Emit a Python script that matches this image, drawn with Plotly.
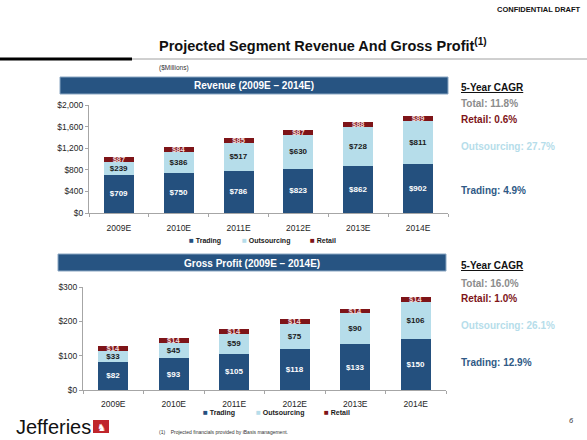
import plotly.graph_objects as go

years = ["2009E", "2010E", "2011E", "2012E", "2013E", "2014E"]
rev_trading = [709, 750, 786, 823, 862, 902]
rev_outsourcing = [239, 386, 517, 630, 728, 811]
rev_retail = [87, 84, 85, 87, 88, 89]
gp_trading = [82, 93, 105, 118, 133, 150]
gp_outsourcing = [33, 45, 59, 75, 90, 106]
gp_retail = [14, 14, 14, 14, 14, 14]
rev_ticks = [0, 400, 800, 1200, 1600, 2000]
gp_ticks = [0, 100, 200, 300]
series_names = ["Trading", "Outsourcing", "Retail"]
rev_cagr = ["Total: 11.8%", "Retail: 0.6%", "Outsourcing: 27.7%", "Trading: 4.9%"]
gp_cagr = ["Total: 16.0%", "Retail: 1.0%", "Outsourcing: 26.1%", "Trading: 12.9%"]

W, H = 587, 440
NAVY = "#24507E"
LIGHT = "#B6DDEA"
RED = "#7E1418"
SERIES_COLORS = [NAVY, LIGHT, RED]
FONT = "Liberation Sans, Arial, sans-serif"


def px(x):
    return x / W


def py(y):
    return 1 - y / H


fig = go.Figure()

label_colors = ["white", "#1a1a1a", "#f0d8d8"]
label_sizes = [8, 8, 7.5]


def add_stack(values, xa, ya, leg):
    for vals, name, col, tc, ts in zip(values, series_names, SERIES_COLORS, label_colors, label_sizes):
        fig.add_trace(go.Bar(
            x=years, y=vals, name=name, marker=dict(color=col, line=dict(width=0)),
            xaxis=xa, yaxis=ya, showlegend=False,
            text=["<b>$%d</b>" % v for v in vals], textposition="inside",
            insidetextanchor="middle", constraintext="none",
            textfont=dict(color=tc, size=ts, family=FONT), width=0.5))
    # legend entries (compact square + label, like the original)
    for name, col, lw in zip(series_names, SERIES_COLORS, [8, 23, 25]):
        fig.add_trace(go.Scatter(
            x=[None], y=[None], mode="markers",
            marker=dict(size=1, color="rgba(0,0,0,0)", line=dict(width=0)),
            xaxis=xa, yaxis=ya, legend=leg, legendwidth=lw, hoverinfo="skip",
            name='<span style="color:%s;font-size:8px">■</span> <b>%s</b>' % (col, name)))


add_stack([rev_trading, rev_outsourcing, rev_retail], "x", "y", "legend")
add_stack([gp_trading, gp_outsourcing, gp_retail], "x2", "y2", "legend2")

axis_common = dict(showgrid=False, zeroline=False, showline=True, linecolor="#a6a6a6", linewidth=1,
                   tickfont=dict(size=8.5, color="#262626", family=FONT), ticks="outside",
                   tickcolor="#a6a6a6", ticklen=3)

legend_common = dict(orientation="h", xanchor="left", yanchor="middle",
                     font=dict(size=7, color="#1a1a1a", family=FONT),
                     bgcolor="rgba(0,0,0,0)", traceorder="normal", itemclick=False,
                     itemdoubleclick=False)

fig.update_layout(
    width=W, height=H, margin=dict(l=0, r=0, t=0, b=0, autoexpand=False),
    paper_bgcolor="white", plot_bgcolor="white", barmode="stack",
    font=dict(family=FONT), showlegend=True, hovermode=False,
    xaxis=dict(domain=[px(89), px(448)], anchor="y", tickson="boundaries", ticklabelstandoff=7,
               **axis_common),
    yaxis=dict(domain=[py(213), py(105)], anchor="x", range=[0, 2000], tickvals=rev_ticks,
               tickformat="$,.0f", **axis_common),
    xaxis2=dict(domain=[px(83), px(446)], anchor="y2", tickson="boundaries", ticklabelstandoff=6,
                **axis_common),
    yaxis2=dict(domain=[py(390), py(287)], anchor="x2", range=[0, 300], tickvals=gp_ticks,
                tickformat="$,.0f", **axis_common),
    legend=dict(x=px(149), y=py(240), **legend_common),
    legend2=dict(x=px(163), y=py(412), **legend_common),
)

shapes = []
annotations = []


def note(x, y, text, size, color="#111111", xanchor="left", family=FONT):
    annotations.append(dict(xref="paper", yref="paper", x=px(x), y=py(y), xanchor=xanchor,
                            yanchor="middle", text=text, showarrow=False,
                            font=dict(size=size, color=color, family=family)))


# header rules
shapes.append(dict(type="line", xref="paper", yref="paper", x0=0, x1=px(132), y0=py(59), y1=py(59),
                   line=dict(color="black", width=3)))
shapes.append(dict(type="line", xref="paper", yref="paper", x0=px(132), x1=1, y0=py(59), y1=py(59),
                   line=dict(color="#a0a0a0", width=1)))

# section header bars
for (x0, x1, y0, y1, label) in [(60, 448, 77, 94, "Revenue (2009E – 2014E)"),
                                (58, 446, 254, 271, "Gross Profit (2009E – 2014E)")]:
    shapes.append(dict(type="rect", xref="paper", yref="paper", x0=px(x0), x1=px(x1), y0=py(y1), y1=py(y0),
                       fillcolor="#275482", line=dict(color="#8aa6c2", width=1)))
    note((x0 + x1) / 2, (y0 + y1) / 2 + 0.5, "<b>%s</b>" % label, 10, "white", "center")

note(583, 10, "<b>CONFIDENTIAL DRAFT</b>", 7.5, "#111111", "right")
note(157, 45, "<b>Projected Segment Revenue And Gross Profit<sup>(1)</sup></b>", 14.5, "#111111")
note(157, 68, "($Millions)", 6.5, "#333333")

cagr_colors = ["#8c8c8c", "#7E1418", "#B6DDEA", "#2F5A86"]
for ys, items in [((87, 104, 119, 146, 190), rev_cagr), ((265, 283, 298, 325, 362), gp_cagr)]:
    note(459, ys[0], "<b><u>5-Year CAGR</u></b>", 10, "#111111")
    for yy, t, c in zip(ys[1:], items, cagr_colors):
        note(459, yy, "<b>%s</b>" % t, 10, c)

# Jefferies logo and footer
note(14, 427, "Jefferies", 20, "#111111")
shapes.append(dict(type="rect", xref="paper", yref="paper", x0=px(93), x1=px(109), y0=py(433), y1=py(420),
                   fillcolor="#C0262C", line=dict(width=0)))
note(101, 427, "♞", 10, "white", "center", "DejaVu Sans")
note(157, 432, "(1)    Projected financials provided by iBasis management.", 5, "#333333")
note(571, 420, "<i>6</i>", 7.5, "#333333", "center")

fig.update_layout(shapes=shapes, annotations=annotations)
fig.write_html("out.html", config={"displayModeBar": False, "staticPlot": True},
               post_script="document.body.style.margin='0px';document.body.style.overflow='hidden';")
